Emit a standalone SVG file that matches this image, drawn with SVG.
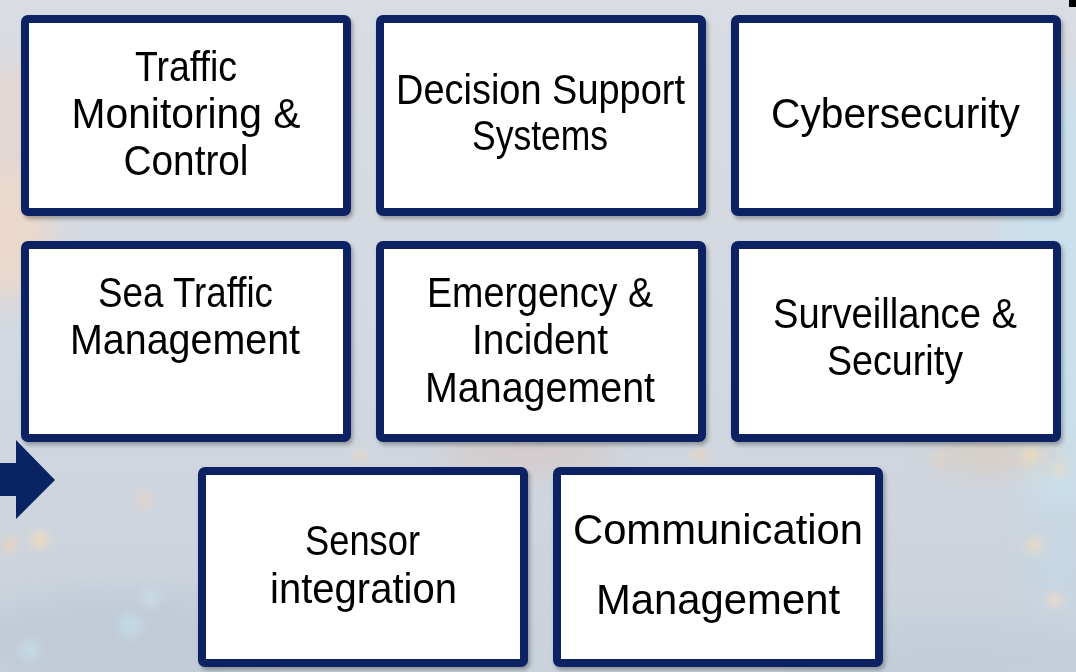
<svg xmlns="http://www.w3.org/2000/svg" width="1076" height="672" viewBox="0 0 1076 672">
  <defs>
    <linearGradient id="bg" x1="0" y1="0" x2="0" y2="1">
      <stop offset="0" stop-color="#d9dce3"/>
      <stop offset="0.5" stop-color="#d3d9e1"/>
      <stop offset="1" stop-color="#c9d1db"/>
    </linearGradient>
    <filter id="blur" x="-50%" y="-50%" width="200%" height="200%">
      <feGaussianBlur stdDeviation="14"/>
    </filter>
    <filter id="blur2" x="-50%" y="-50%" width="200%" height="200%">
      <feGaussianBlur stdDeviation="5"/>
    </filter>
    <filter id="shadow" x="-10%" y="-10%" width="120%" height="120%">
      <feDropShadow dx="2" dy="3" stdDeviation="2" flood-color="#000" flood-opacity="0.3"/>
    </filter>
    <style>
      .box { fill: #ffffff; stroke: #0a2362; stroke-width: 8; }
      .lbl { font-family: "Liberation Sans", Arial, sans-serif; font-size: 42px; fill: #000000; text-anchor: middle; }
    </style>
  </defs>

  <!-- background -->
  <rect x="0" y="0" width="1076" height="672" fill="url(#bg)"/>
  <g filter="url(#blur)" opacity="0.8">
    <ellipse cx="1060" cy="300" rx="60" ry="220" fill="#c8e2ef"/>
    <ellipse cx="10" cy="230" rx="40" ry="70" fill="#f1d8c6"/>
    <ellipse cx="20" cy="120" rx="30" ry="60" fill="#e9d6cc"/>
    <ellipse cx="120" cy="640" rx="150" ry="50" fill="#bfcad6"/>
    <ellipse cx="950" cy="660" rx="150" ry="40" fill="#c3ccd8"/>
    <ellipse cx="530" cy="455" rx="90" ry="14" fill="#d7c5c0"/>
    <ellipse cx="1000" cy="455" rx="70" ry="14" fill="#dccab8"/>
    <ellipse cx="1060" cy="560" rx="30" ry="60" fill="#c5d8e4"/>
  </g>
  <g filter="url(#blur2)" opacity="0.8">
    <circle cx="40" cy="540" r="9" fill="#f3dcb8"/>
    <circle cx="10" cy="545" r="7" fill="#f0d4b5"/>
    <circle cx="145" cy="500" r="7" fill="#ebd3c5"/>
    <circle cx="150" cy="598" r="8" fill="#c9e2ea"/>
    <circle cx="130" cy="625" r="12" fill="#c3dce8"/>
    <circle cx="30" cy="650" r="10" fill="#c6dde8"/>
    <circle cx="1030" cy="455" r="8" fill="#f0dcb8"/>
    <circle cx="1060" cy="470" r="6" fill="#f1dbc0"/>
    <circle cx="940" cy="460" r="6" fill="#e7d2bf"/>
    <circle cx="1035" cy="545" r="8" fill="#f0dcc0"/>
    <circle cx="1055" cy="600" r="8" fill="#ecd9c4"/>
    <circle cx="700" cy="455" r="7" fill="#e9d4bd"/>
    <circle cx="360" cy="455" r="6" fill="#eed7c1"/>
  </g>

  <!-- top-right mark -->
  <rect x="1069" y="0" width="7" height="7" fill="#000000"/>

  <!-- connector: arrow -->
  <g id="connectors">
    <polygon points="0,463 16,463 16,440 55,480 16,519 16,496 0,496" fill="#0a2362"/>
  </g>

  <g id="node-traffic-monitoring" filter="url(#shadow)">
    <rect class="box" x="25" y="19" width="322" height="193" rx="3"/>
    <text class="lbl" x="186" y="81" textLength="102" lengthAdjust="spacingAndGlyphs">Traffic</text>
    <text class="lbl" x="186" y="128" textLength="229" lengthAdjust="spacingAndGlyphs">Monitoring &amp;</text>
    <text class="lbl" x="186" y="175" textLength="125" lengthAdjust="spacingAndGlyphs">Control</text>
  </g>

  <g id="node-decision-support" filter="url(#shadow)">
    <rect class="box" x="380" y="19" width="322" height="193" rx="3"/>
    <text class="lbl" x="540.5" y="104" textLength="289" lengthAdjust="spacingAndGlyphs">Decision Support</text>
    <text class="lbl" x="540" y="150" textLength="136" lengthAdjust="spacingAndGlyphs">Systems</text>
  </g>

  <g id="node-cybersecurity" filter="url(#shadow)">
    <rect class="box" x="735" y="19" width="322" height="193" rx="3"/>
    <text class="lbl" x="895.5" y="128" textLength="249" lengthAdjust="spacingAndGlyphs">Cybersecurity</text>
  </g>

  <g id="node-sea-traffic" filter="url(#shadow)">
    <rect class="box" x="25" y="245" width="322" height="193" rx="3"/>
    <text class="lbl" x="185.5" y="307" textLength="175" lengthAdjust="spacingAndGlyphs">Sea Traffic</text>
    <text class="lbl" x="185" y="354" textLength="230" lengthAdjust="spacingAndGlyphs">Management</text>
  </g>

  <g id="node-emergency" filter="url(#shadow)">
    <rect class="box" x="380" y="245" width="322" height="193" rx="3"/>
    <text class="lbl" x="540" y="307" textLength="226" lengthAdjust="spacingAndGlyphs">Emergency &amp;</text>
    <text class="lbl" x="540" y="354" textLength="136" lengthAdjust="spacingAndGlyphs">Incident</text>
    <text class="lbl" x="540" y="402" textLength="230" lengthAdjust="spacingAndGlyphs">Management</text>
  </g>

  <g id="node-surveillance" filter="url(#shadow)">
    <rect class="box" x="735" y="245" width="322" height="193" rx="3"/>
    <text class="lbl" x="895" y="328" textLength="244" lengthAdjust="spacingAndGlyphs">Surveillance &amp;</text>
    <text class="lbl" x="895" y="375" textLength="136" lengthAdjust="spacingAndGlyphs">Security</text>
  </g>

  <g id="node-sensor" filter="url(#shadow)">
    <rect class="box" x="202" y="471" width="322" height="192" rx="3"/>
    <text class="lbl" x="362.5" y="555" textLength="115" lengthAdjust="spacingAndGlyphs">Sensor</text>
    <text class="lbl" x="363.5" y="603" textLength="187" lengthAdjust="spacingAndGlyphs">integration</text>
  </g>

  <g id="node-communication" filter="url(#shadow)">
    <rect class="box" x="557" y="471" width="322" height="192" rx="3"/>
    <text class="lbl" x="718" y="544" textLength="290" lengthAdjust="spacingAndGlyphs">Communication</text>
    <text class="lbl" x="718" y="614" textLength="244" lengthAdjust="spacingAndGlyphs">Management</text>
  </g>
</svg>
